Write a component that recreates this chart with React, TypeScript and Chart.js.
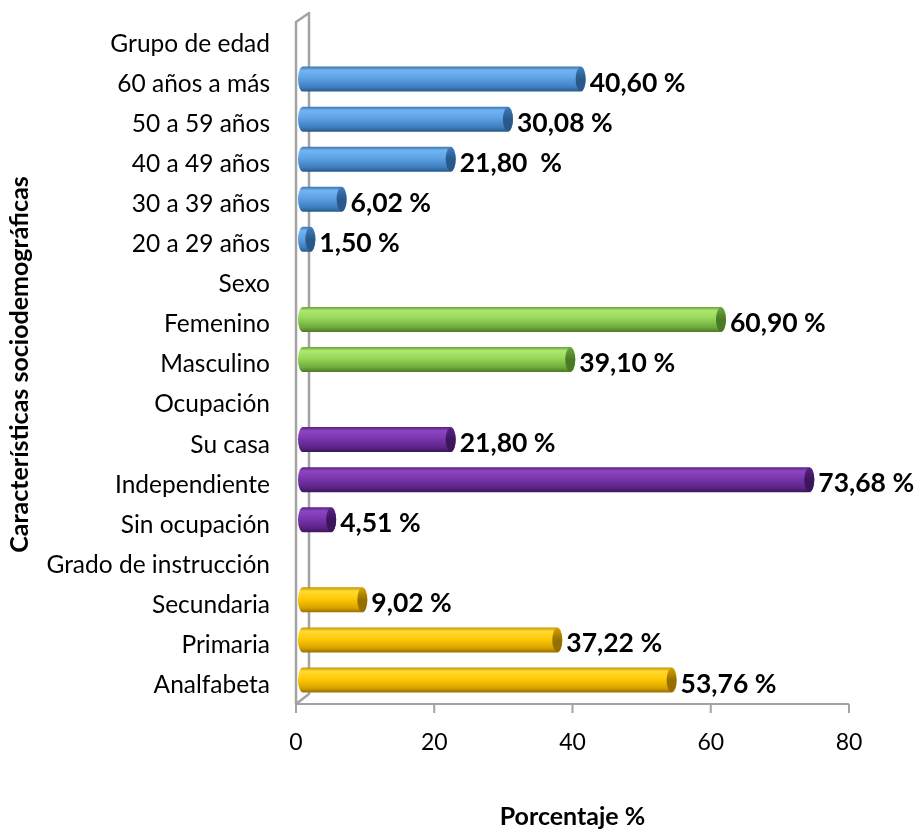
import React, { useEffect, useRef } from "react";
import { Chart, registerables } from "chart.js";

Chart.register(...registerables);

const categories: string[] = [
  "Grupo de edad",
  "60 años a más",
  "50 a 59 años",
  "40 a 49 años",
  "30 a 39 años",
  "20 a 29 años",
  "Sexo",
  "Femenino",
  "Masculino",
  "Ocupación",
  "Su casa",
  "Independiente",
  "Sin ocupación",
  "Grado de instrucción",
  "Secundaria",
  "Primaria",
  "Analfabeta",
];

const values: (number | null)[] = [
  null, 40.6, 30.08, 21.8, 6.02, 1.5,
  null, 60.9, 39.1,
  null, 21.8, 73.68, 4.51,
  null, 9.02, 37.22, 53.76,
];

const valueLabels: string[] = [
  "", "40,60 %", "30,08 %", "21,80  %", "6,02 %", "1,50 %",
  "", "60,90 %", "39,10 %",
  "", "21,80 %", "73,68 %", "4,51 %",
  "", "9,02 %", "37,22 %", "53,76 %",
];

const groups: string[] = [
  "", "edad", "edad", "edad", "edad", "edad",
  "", "sexo", "sexo",
  "", "ocup", "ocup", "ocup",
  "", "grado", "grado", "grado",
];

const xTicks: number[] = [0, 20, 40, 60, 80];

const palette: Record<string, string[]> = {
  edad: ["#3A74AE", "#72B4F2", "#5EA3E6", "#3F7FBF", "#28598A"],
  sexo: ["#679F38", "#AEE872", "#96D858", "#6FA93C", "#4B7A24"],
  ocup: ["#55227E", "#8C46C0", "#7B36AF", "#5A2487", "#3C155B"],
  grado: ["#C29400", "#FFDA35", "#FFCB05", "#D9A300", "#957000"],
};

const FONT = "Lato, 'Open Sans', sans-serif";
const BAR_H = 25;
const BAR_SHIFT = -5;
const DEPTH = 4;

function makeGrad(ctx: CanvasRenderingContext2D, top: number, h: number, cols: string[]) {
  const g = ctx.createLinearGradient(0, top, 0, top + h);
  g.addColorStop(0, cols[0]);
  g.addColorStop(0.15, cols[1]);
  g.addColorStop(0.45, cols[2]);
  g.addColorStop(0.82, cols[3]);
  g.addColorStop(1, cols[4]);
  return g;
}

const cylinderPlugin = {
  id: "cylinders",
  beforeDatasetsDraw(chart: any) {
    const ctx = chart.ctx as CanvasRenderingContext2D;
    const { left, right, top, bottom } = chart.chartArea;
    const xs = chart.scales.x;
    ctx.save();
    ctx.strokeStyle = "#A3A3A3";
    ctx.lineWidth = 2.5;
    ctx.lineJoin = "round";
    ctx.beginPath();
    ctx.moveTo(left, bottom - 1);
    ctx.lineTo(left, top - 2);
    ctx.lineTo(left + 13, top - 11);
    ctx.lineTo(left + 13, bottom - 11);
    ctx.lineTo(left, bottom - 1);
    ctx.stroke();
    ctx.lineWidth = 2;
    ctx.beginPath();
    ctx.moveTo(left, bottom - 1);
    ctx.lineTo(right, bottom - 1);
    xTicks.forEach((t) => {
      const px = xs.getPixelForValue(t);
      ctx.moveTo(px, bottom - 1);
      ctx.lineTo(px, bottom + 8);
    });
    ctx.stroke();
    ctx.restore();
  },
  afterDatasetsDraw(chart: any) {
    const ctx = chart.ctx as CanvasRenderingContext2D;
    const meta = chart.getDatasetMeta(0);
    meta.data.forEach((el: any, i: number) => {
      const v = values[i];
      if (v === null || v === undefined) return;
      const cols = palette[groups[i]];
      const h = BAR_H;
      const cy = el.y + BAR_SHIFT;
      const topY = cy - h / 2;
      const x0 = el.base + 2;
      const x1 = el.x + DEPTH;
      const rx = 5;
      ctx.save();
      ctx.beginPath();
      ctx.moveTo(x1, topY);
      ctx.lineTo(x0 + rx, topY);
      ctx.ellipse(x0 + rx, cy, rx, h / 2, 0, -Math.PI / 2, Math.PI / 2, true);
      ctx.lineTo(x1, topY + h);
      ctx.ellipse(x1, cy, rx, h / 2, 0, Math.PI / 2, -Math.PI / 2, true);
      ctx.closePath();
      ctx.fillStyle = makeGrad(ctx, topY, h, cols);
      ctx.fill();
      ctx.beginPath();
      ctx.ellipse(x1, cy, rx, h / 2 - 0.5, 0, 0, Math.PI * 2);
      const g2 = ctx.createLinearGradient(0, topY, 0, topY + h);
      g2.addColorStop(0, cols[3]);
      g2.addColorStop(0.5, cols[4]);
      g2.addColorStop(1, cols[4]);
      ctx.fillStyle = g2;
      ctx.fill();
      ctx.restore();

      ctx.save();
      ctx.font = `bold 26.5px ${FONT}`;
      ctx.fillStyle = "#000";
      ctx.textAlign = "left";
      ctx.textBaseline = "middle";
      ctx.fillText(valueLabels[i], x1 + rx + 4, el.y - 1);
      ctx.restore();
    });
  },
};

export default function App() {
  const ref = useRef<HTMLCanvasElement>(null);
  useEffect(() => {
    if (!ref.current) return;
    const chart = new Chart(ref.current, {
      type: "bar",
      data: {
        labels: categories,
        datasets: [
          {
            data: values as any,
            backgroundColor: "rgba(0,0,0,0)",
            borderWidth: 0,
            barThickness: BAR_H,
          },
        ],
      },
      options: {
        indexAxis: "y",
        animation: false,
        responsive: false,
        maintainAspectRatio: false,
        layout: { padding: { top: 24, right: 75, left: 0, bottom: 0 } },
        plugins: {
          legend: { display: false },
          tooltip: { enabled: false },
        },
        scales: {
          x: {
            min: 0,
            max: 80,
            grid: { display: false, drawTicks: false },
            border: { display: false },
            ticks: {
              stepSize: 20,
              color: "#000",
              padding: 24,
              font: { family: FONT, size: 23 },
            },
            title: {
              display: true,
              text: "Porcentaje %",
              color: "#000",
              font: { family: FONT, size: 25, weight: "bold" },
              padding: { top: 0, bottom: 1 },
            },
            afterFit: (s: any) => {
              s.height = 128;
              s.paddingLeft = 0;
              s.paddingRight = 0;
            },
          },
          y: {
            grid: { display: false, drawTicks: false },
            border: { display: false },
            ticks: {
              color: "#000",
              padding: 26,
              autoSkip: false,
              font: { family: FONT, size: 24.5 },
            },
            title: {
              display: true,
              text: "Características sociodemográficas",
              color: "#000",
              font: { family: FONT, size: 25, weight: "bold" },
              padding: { top: 5, bottom: 0 },
            },
            afterFit: (s: any) => {
              s.width = 296;
              s.paddingTop = 0;
              s.paddingBottom = 0;
            },
          },
        },
      } as any,
      plugins: [cylinderPlugin],
    });
    return () => chart.destroy();
  }, []);
  return (
    <div style={{ position: "absolute", left: 0, top: 0, width: 924, height: 833, background: "#fff" }}>
      <canvas ref={ref} width={924} height={833} style={{ width: 924, height: 833, display: "block" }} />
    </div>
  );
}
